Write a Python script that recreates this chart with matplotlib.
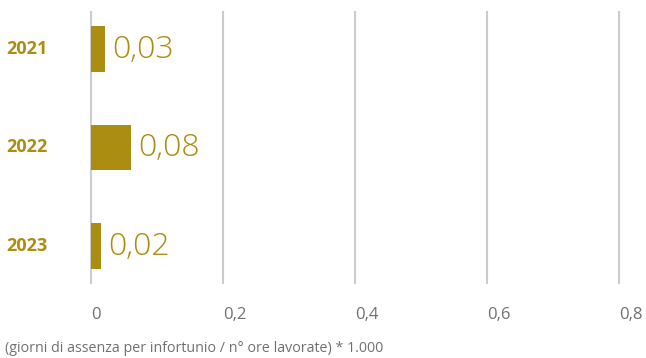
import matplotlib.pyplot as plt

# Data
years = ['2021', '2022', '2023']
bar_values = [0.021, 0.061, 0.015]      # bar lengths as drawn in the reference
value_labels = ['0,03', '0,08', '0,02']  # labels printed next to the bars
x_ticks = [0, 0.2, 0.4, 0.6, 0.8]
x_tick_labels = ['0', '0,2', '0,4', '0,6', '0,8']
note = '(giorni di assenza per infortunio / n° ore lavorate) * 1.000'

gold = '#AB8D12'
grid_grey = '#cccccc'
plt.rcParams['font.family'] = ['Open Sans', 'DejaVu Sans']

fig = plt.figure(figsize=(6.46, 3.58), dpi=100)
W, H = 646, 358
ax = fig.add_axes([91 / W, 1 - 283 / H, (619 - 91) / W, (283 - 12) / H])

ypos = list(range(len(years)))
ax.barh(ypos, bar_values, height=0.465, color=gold, zorder=3)
ax.set_xlim(0, 0.8)
ax.set_ylim(2.37, -0.37)

# vertical grid lines
for x in x_ticks:
    ax.axvline(x, color=grid_grey, lw=1.5, zorder=1, clip_on=False)

ax.set_xticks(x_ticks)
ax.set_xticklabels(x_tick_labels, ha='left', fontsize=12, color='#707070')
ax.tick_params(axis='x', length=0, pad=17)
ax.set_yticks([])
for s in ax.spines.values():
    s.set_visible(False)

# value labels
for y, v, lab in zip(ypos, bar_values, value_labels):
    ax.text(v + 0.011, y + 0.01, lab, va='center', ha='left', fontsize=23,
            color=gold, fontweight='light')

# year labels
for y, yr in zip(ypos, years):
    ax.text(-85 / 660, y, yr, va='center', ha='left', fontsize=13,
            fontweight='bold', color=gold)

fig.text(5 / W, 1 - 349 / H, note, fontsize=10.3, color='#707070',
         va='center', ha='left')

fig.savefig('out.png', dpi=100)
